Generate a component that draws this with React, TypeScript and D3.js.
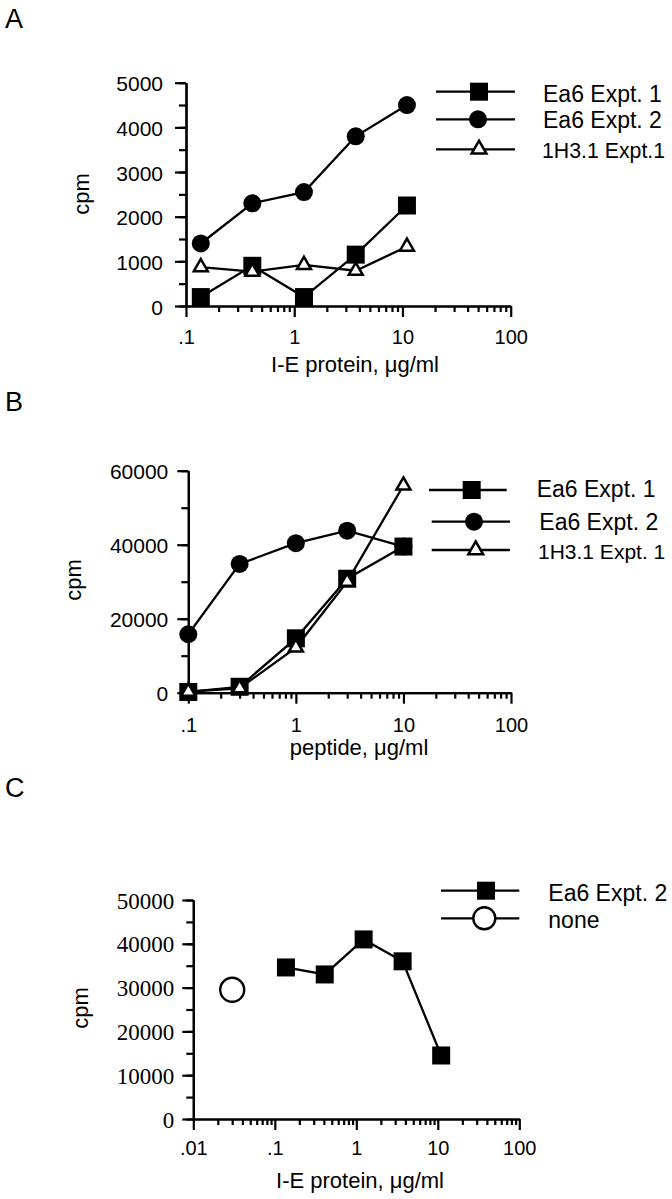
import * as d3 from 'd3'
import React, { useEffect, useRef } from 'react'

// panel A: I-E protein titration
const concA = [0.137, 0.41, 1.23, 3.7, 11]
const ea6Expt1A = [200, 900, 200, 1150, 2250]
const ea6Expt2A = [1400, 2300, 2550, 3800, 4500]
const h31Expt1A = [870, 770, 920, 790, 1330]

// panel B: peptide titration
const concB = [0.1, 0.3, 1, 3, 10]
const ea6Expt1B = [200, 1600, 14700, 30800, 39500]
const ea6Expt2B = [15800, 34800, 40400, 43800, 39500]
const h31Expt1B = [300, 1200, 12200, 30000, 56000]

// panel C
const concC = [0.137, 0.41, 1.23, 3.7, 11]
const ea6Expt2C = [34600, 33000, 41000, 36000, 14500]
const noneConc = [0.03]
const noneC = [29500]

const xTicksAB = [0.1, 1, 10, 100]
const xTicksC = [0.01, 0.1, 1, 10, 100]
const yTicksA = [0, 1000, 2000, 3000, 4000, 5000]
const yTicksB = [0, 20000, 40000, 60000]
const yTicksC = [0, 10000, 20000, 30000, 40000, 50000]

const SANS = "'Liberation Sans', Arial, Helvetica, sans-serif"
const SERIF = "'Liberation Serif', 'Times New Roman', serif"

const fmtX = (v: number) => (v < 1 ? String(v).replace(/^0/, '') : String(v))

type Marker = 'square' | 'circle' | 'triangle' | 'open'

const drawMarker = (g: any, m: Marker, cx: number, cy: number, big = false) => {
  if (m === 'square') {
    g.append('rect').attr('x', cx - 9).attr('y', cy - 9).attr('width', 18).attr('height', 18).attr('fill', '#000')
  } else if (m === 'circle') {
    g.append('circle').attr('cx', cx).attr('cy', cy).attr('r', 9).attr('fill', '#000')
  } else if (m === 'triangle') {
    g.append('path')
      .attr('d', d3.symbol(d3.symbolTriangle, big ? 95 : 85)())
      .attr('transform', `translate(${cx},${cy})`)
      .attr('fill', '#fff').attr('stroke', '#000').attr('stroke-width', 2.5)
  } else {
    g.append('circle').attr('cx', cx).attr('cy', cy).attr('r', big ? 11 : 12)
      .attr('fill', '#fff').attr('stroke', '#000').attr('stroke-width', 2.4)
  }
}

const panels = [
  {
    letter: 'A', letterY: 28,
    xDomain: [0.1, 100], xRange: [186, 510.7], xTicks: xTicksAB,
    yDomain: [0, 5000], yRange: [306, 82.7], yTicks: yTicksA, yMinorStep: 500,
    yFont: SANS, yFontSize: 21, yLabelX: -23, yLabelDy: 8,
    xLabelY: 38, xTitle: 'I-E protein, μg/ml', xTitleX: 355, xTitleY: 372,
    cpmX: 89, cpmY: 194,
    series: [
      { name: 'Ea6 Expt. 2', marker: 'circle' as Marker, x: concA, y: ea6Expt2A },
      { name: 'Ea6 Expt. 1', marker: 'square' as Marker, x: concA, y: ea6Expt1A },
      { name: '1H3.1 Expt.1', marker: 'triangle' as Marker, x: concA, y: h31Expt1A },
    ],
    legend: [
      { name: 'Ea6 Expt. 1', marker: 'square' as Marker, y: 91.7, x1: 436, x2: 515, mx: 479, tx: 543, ty: 101.7, fs: 23 },
      { name: 'Ea6 Expt. 2', marker: 'circle' as Marker, y: 119.3, x1: 436, x2: 515, mx: 478, tx: 543, ty: 128.3, fs: 23 },
      { name: '1H3.1 Expt.1', marker: 'triangle' as Marker, y: 149.3, x1: 436, x2: 515, mx: 479, tx: 542, ty: 158.3, fs: 21.3 },
    ],
  },
  {
    letter: 'B', letterY: 411,
    xDomain: [0.1, 100], xRange: [188.3, 511], xTicks: xTicksAB,
    yDomain: [0, 60000], yRange: [692.7, 470.7], yTicks: yTicksB, yMinorStep: 10000,
    yFont: SANS, yFontSize: 21, yLabelX: -20, yLabelDy: 8,
    xLabelY: 39, xTitle: 'peptide, μg/ml', xTitleX: 359, xTitleY: 755,
    cpmX: 81, cpmY: 580,
    series: [
      { name: 'Ea6 Expt. 2', marker: 'circle' as Marker, x: concB, y: ea6Expt2B },
      { name: 'Ea6 Expt. 1', marker: 'square' as Marker, x: concB, y: ea6Expt1B },
      { name: '1H3.1 Expt. 1', marker: 'triangle' as Marker, x: concB, y: h31Expt1B },
    ],
    legend: [
      { name: 'Ea6 Expt. 1', marker: 'square' as Marker, y: 490, x1: 429, x2: 506.7, mx: 471.7, tx: 536.7, ty: 497.3, fs: 23 },
      { name: 'Ea6 Expt. 2', marker: 'circle' as Marker, y: 521.7, x1: 431.7, x2: 510, mx: 474, tx: 539.3, ty: 530, fs: 23 },
      { name: '1H3.1 Expt. 1', marker: 'triangle' as Marker, y: 550, x1: 431.7, x2: 510, mx: 475.7, tx: 538, ty: 559, fs: 21 },
    ],
  },
  {
    letter: 'C', letterY: 797,
    xDomain: [0.01, 100], xRange: [193.3, 519.3], xTicks: xTicksC,
    yDomain: [0, 50000], yRange: [1119, 900], yTicks: yTicksC, yMinorStep: 5000,
    yFont: SERIF, yFontSize: 23, yLabelX: -19, yLabelDy: 8,
    xLabelY: 36, xTitle: 'I-E protein, μg/ml', xTitleX: 360, xTitleY: 1188,
    cpmX: 88, cpmY: 1008,
    series: [
      { name: 'Ea6 Expt. 2', marker: 'square' as Marker, x: concC, y: ea6Expt2C },
      { name: 'none', marker: 'open' as Marker, x: noneConc, y: noneC },
    ],
    legend: [
      { name: 'Ea6 Expt. 2', marker: 'square' as Marker, y: 890.7, x1: 441, x2: 519.3, mx: 486, tx: 548.3, ty: 900.7, fs: 23 },
      { name: 'none', marker: 'open' as Marker, y: 918.3, x1: 441, x2: 519.3, mx: 484.3, tx: 548.3, ty: 928.3, fs: 23 },
    ],
  },
]

const styleAxis = (sel: any) => {
  sel.select('.domain').attr('stroke', '#000').attr('stroke-width', 2.2)
  sel.selectAll('.tick line').attr('stroke', '#000').attr('stroke-width', 2.2)
}

export default function App() {
  const ref = useRef<SVGSVGElement>(null)

  useEffect(() => {
    const svg = d3.select(ref.current)
    svg.selectAll('*').remove()

    panels.forEach(p => {
      const x = d3.scaleLog().domain(p.xDomain).range(p.xRange)
      const y = d3.scaleLinear().domain(p.yDomain).range(p.yRange)
      const g = svg.append('g')
      const x0 = p.xRange[0]
      const y0 = p.yRange[0]

      g.append('text').attr('x', 5).attr('y', p.letterY)
        .attr('font-family', SANS).attr('font-size', 27).text(p.letter)

      // x minor ticks
      const xMinor: number[] = []
      for (let d = p.xDomain[0]; d < p.xDomain[1] * 0.99; d *= 10)
        for (let k = 2; k < 10; k++) xMinor.push(d * k)
      g.append('g').attr('transform', `translate(0,${y0})`)
        .call(d3.axisBottom(x).tickValues(xMinor).tickSize(6).tickSizeOuter(0).tickFormat(() => '') as any)
        .call(styleAxis)

      const xa = g.append('g').attr('transform', `translate(0,${y0})`)
        .call(d3.axisBottom(x).tickValues(p.xTicks).tickSize(11).tickSizeOuter(0).tickFormat((v: any) => fmtX(v)) as any)
        .call(styleAxis)
      xa.selectAll('text').attr('y', p.xLabelY).attr('dy', null)
        .attr('font-family', SANS).attr('font-size', 20).attr('fill', '#000')

      // y minor ticks
      const yMinor = d3.range(p.yDomain[0], p.yDomain[1] + 1, p.yMinorStep)
      g.append('g').attr('transform', `translate(${x0},0)`)
        .call(d3.axisLeft(y).tickValues(yMinor).tickSize(7).tickSizeOuter(0).tickFormat(() => '') as any)
        .call(styleAxis)
      const ya = g.append('g').attr('transform', `translate(${x0},0)`)
        .call(d3.axisLeft(y).tickValues(p.yTicks).tickSize(11).tickSizeOuter(0).tickFormat(d3.format('d')) as any)
        .call(styleAxis)
      ya.selectAll('text').attr('x', p.yLabelX).attr('dy', null).attr('y', p.yLabelDy)
        .attr('font-family', p.yFont).attr('font-size', p.yFontSize).attr('fill', '#000')

      g.append('text').attr('x', p.xTitleX).attr('y', p.xTitleY).attr('text-anchor', 'middle')
        .attr('font-family', SANS).attr('font-size', 22).text(p.xTitle)
      g.append('text').attr('transform', `translate(${p.cpmX},${p.cpmY}) rotate(-90)`)
        .attr('text-anchor', 'middle').attr('font-family', SANS).attr('font-size', 22).text('cpm')

      // series lines then markers
      p.series.forEach(s => {
        const pts = s.x.map((c, i) => [x(c), y(s.y[i])] as [number, number])
        if (pts.length > 1)
          g.append('path').attr('d', d3.line()(pts)).attr('fill', 'none')
            .attr('stroke', '#000').attr('stroke-width', 2.3)
        const mg = g.append('g')
        pts.forEach(([cx, cy]) => drawMarker(mg, s.marker, cx, cy))
      })

      // legend
      p.legend.forEach(l => {
        g.append('line').attr('x1', l.x1).attr('x2', l.x2).attr('y1', l.y).attr('y2', l.y)
          .attr('stroke', '#000').attr('stroke-width', 2.3)
        drawMarker(g, l.marker, l.mx, l.y, true)
        g.append('text').attr('x', l.tx).attr('y', l.ty)
          .attr('font-family', SANS).attr('font-size', l.fs).text(l.name)
      })
    })
  }, [])

  return (
    <svg ref={ref} width={672} height={1199}
      style={{ position: 'absolute', left: 0, top: 0, background: '#fff' }} />
  )
}
